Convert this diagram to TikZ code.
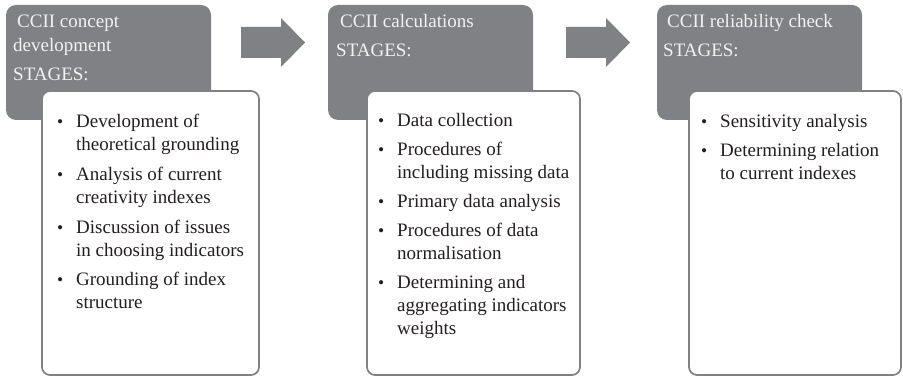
\documentclass[tikz,border=0pt]{standalone}
\usepackage{fontspec}
\setmainfont{Liberation Serif}
\definecolor{boxgrey}{HTML}{808184}
\definecolor{hdrtext}{HTML}{F2F2F2}
\definecolor{bodytext}{HTML}{231F20}
\newcommand{\bul}{\makebox[19pt][l]{\raisebox{0.6pt}{\scalebox{0.92}{\textbullet}}}}
\tikzset{
  greybox/.style={fill=boxgrey, rounded corners=10pt},
  whitebox/.style={fill=white, draw=boxgrey, line width=1.7pt, rounded corners=8pt},
  blockarrow/.style={fill=boxgrey},
  hdr/.style={inner sep=0pt, anchor=base west, text=hdrtext, font=\fontsize{19}{24}\selectfont},
  body/.style={inner sep=0pt, anchor=base west, text=bodytext, font=\fontsize{19}{23}\selectfont},
}
\begin{document}
\begin{tikzpicture}[x=1pt,y=-1pt]
\useasboundingbox (0,0) rectangle (903,377);
% grey header boxes
\fill[greybox] (6,5) rectangle (211,120);
\fill[greybox] (328,5) rectangle (533,120);
\fill[greybox] (657,5) rectangle (862,120);
% white list boxes
\draw[whitebox] (42,91) rectangle (259,375);
\draw[whitebox] (367,91) rectangle (580,375);
\draw[whitebox] (689,91) rectangle (901,375);
% block arrows
\fill[blockarrow] (241,27) -- (281,27) -- (281,18) -- (305,42.5) -- (281,67) -- (281,58) -- (241,58) -- cycle;
\fill[blockarrow] (566,27) -- (606,27) -- (606,18) -- (630,42.5) -- (606,67) -- (606,58) -- (566,58) -- cycle;
% headers
\node[hdr] (h1) at (13,28) {\begin{tabular}[t]{@{}l@{}}\hspace{4pt}CCII concept\\ development\\[5pt] STAGES:\end{tabular}};
\node[hdr] (h2) at (336,28) {\begin{tabular}[t]{@{}l@{}}\hspace{4pt}CCII calculations\\[5pt] STAGES:\end{tabular}};
\node[hdr] (h3) at (663,28) {\begin{tabular}[t]{@{}l@{}}\hspace{4pt}CCII reliability check\\[5pt] STAGES:\end{tabular}};
% lists
\node[body] (l1) at (57,128) {\begin{tabular}[t]{@{}l@{}l@{}}
\bul & Development of\\
     & theoretical grounding\\[7pt]
\bul & Analysis of current\\
     & creativity indexes\\[7pt]
\bul & Discussion of issues\\
     & in choosing indicators\\[6pt]
\bul & Grounding of index\\
     & structure
\end{tabular}};
\node[body] (l2) at (378,127) {\begin{tabular}[t]{@{}l@{}l@{}}
\bul & Data collection\\[6pt]
\bul & Procedures of\\
     & including missing data\\[6pt]
\bul & Primary data analysis\\[6pt]
\bul & Procedures of data\\
     & normalisation\\[6pt]
\bul & Determining and\\
     & aggregating indicators\\
     & weights
\end{tabular}};
\node[body] (l3) at (701,128) {\begin{tabular}[t]{@{}l@{}l@{}}
\bul & Sensitivity analysis\\[6pt]
\bul & Determining relation\\
     & to current indexes
\end{tabular}};
\end{tikzpicture}
\end{document}
